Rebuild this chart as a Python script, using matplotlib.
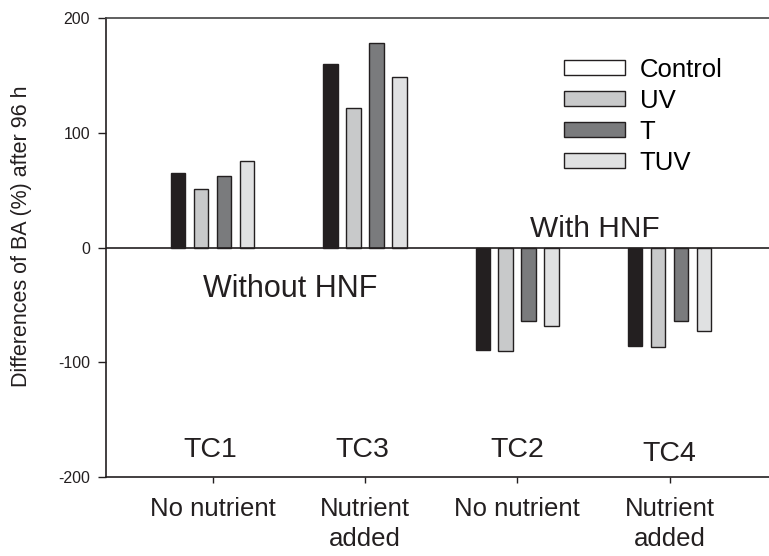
import numpy as np
import matplotlib
matplotlib.use("Agg")
import matplotlib.pyplot as plt
from matplotlib.patches import Patch

plt.rcParams['font.family'] = ['Liberation Sans', 'DejaVu Sans']

# data
groups = ["No nutrient", "Nutrient\nadded", "No nutrient", "Nutrient\nadded"]
tc_names = ["TC1", "TC3", "TC2", "TC4"]
treatments = ["Control", "UV", "T", "TUV"]
control = [65, 160, -89, -86]
uv = [51, 122, -90, -87]
temp = [62, 178, -64, -64]
tuv = [75, 149, -68, -73]

bar_colors = ['#231f20', '#c8c9ca', '#7a7b7d', '#e0e1e2']
legend_colors = ['#ffffff', '#c8c9ca', '#7a7b7d', '#e0e1e2']
edge = '#231f20'

fig = plt.figure(figsize=(7.69, 5.56), dpi=100)
ax = fig.add_axes([106 / 769, 1 - 477 / 556, 1 - 106 / 769, (477 - 18) / 556])

x = np.arange(len(groups))
pitch = 0.151
width = 0.095
for i, vals in enumerate([control, uv, temp, tuv]):
    ax.bar(x + (i - 1.5) * pitch, vals, width, color=bar_colors[i],
           edgecolor=edge, linewidth=1.0, zorder=3)

ax.axhline(0, color=edge, lw=1.2, zorder=4)

ax.set_xlim(-0.70, 3.653)
ax.set_ylim(-200, 200)
ax.set_yticks([-200, -100, 0, 100, 200])
ax.set_yticklabels(['-200', '-100', '0', '100', '200'])
ax.set_xticks(x)
ax.set_xticklabels(groups, linespacing=1.3)

ax.spines['right'].set_visible(False)
for s in ['left', 'bottom']:
    ax.spines[s].set_color(edge)
    ax.spines[s].set_linewidth(1.2)
ax.spines['top'].set_color('#444444')
ax.spines['top'].set_linewidth(1.2)

ax.tick_params(axis='y', direction='out', length=6, width=1, pad=5.5,
               labelsize=11.5, colors=edge)
ax.tick_params(axis='x', direction='out', length=4.5, width=1, pad=10,
               labelsize=18.5, colors=edge)

fig.text(22 / 769, 1 - 236 / 556, "Differences of BA (%) after 96 h",
         rotation=90, ha='center', va='center', fontsize=15.5, color=edge)

# condition labels
tc_y = [-182.3, -182.3, -182.3, -185.8]
tc_dx = [-0.016, -0.016, 0.0, 0.0]
for i, name in enumerate(tc_names):
    ax.text(x[i] + tc_dx[i], tc_y[i], name, ha='center', va='baseline',
            fontsize=20.5, color=edge)

ax.text(0.51, -43, "Without HNF", ha='center', va='baseline',
        fontsize=22, color=edge)
ax.text(2.509, 9, "With HNF", ha='center', va='baseline',
        fontsize=21.5, color=edge)

handles = [Patch(facecolor=c, edgecolor=edge, linewidth=1.0)
           for c in legend_colors]
ax.legend(handles, treatments, loc='upper left',
          bbox_to_anchor=(564 / 769, 1 - 58 / 556), bbox_transform=fig.transFigure,
          frameon=False, fontsize=18.5, handlelength=2.37, handleheight=0.525,
          handletextpad=0.58, labelspacing=0.27, borderpad=0, borderaxespad=0)

fig.savefig("out.png", dpi=100)
